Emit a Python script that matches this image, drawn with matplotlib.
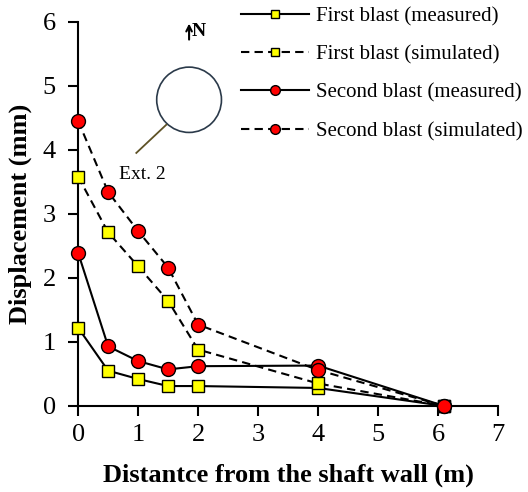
import matplotlib
matplotlib.use("Agg")
import matplotlib.pyplot as plt
from matplotlib.patches import Ellipse

plt.rcParams['font.family'] = ['Liberation Serif', 'DejaVu Serif']

x = [0, 0.5, 1, 1.5, 2, 4, 6.1]
first_measured = [1.22, 0.55, 0.42, 0.31, 0.31, 0.28, 0.0]
first_simulated = [3.58, 2.71, 2.18, 1.64, 0.88, 0.35, 0.0]
second_measured = [2.39, 0.93, 0.70, 0.57, 0.62, 0.63, 0.0]
second_simulated = [4.45, 3.34, 2.73, 2.16, 1.27, 0.56, 0.0]

fig = plt.figure(figsize=(5.28, 4.92), dpi=100)
ax = fig.add_axes([0.148, 0.175, 0.795, 0.781])

sq = dict(marker='s', markersize=9.2, markerfacecolor='#ffff00', markeredgecolor='black', markeredgewidth=1.0, color='black', lw=1.5, clip_on=False)
ci = dict(marker='o', markersize=10, markerfacecolor='#ff0000', markeredgecolor='black', markeredgewidth=1.0, color='black', lw=1.5, clip_on=False)

l1, = ax.plot(x, first_measured, ls='-', label='First blast (measured)', zorder=3, **sq)
l2, = ax.plot(x, first_simulated, ls=(0, (4, 2.5)), label='First blast (simulated)', zorder=3, **sq)
l3, = ax.plot(x, second_measured, ls='-', label='Second blast (measured)', zorder=4, **ci)
l4, = ax.plot(x, second_simulated, ls=(0, (4, 2.5)), label='Second blast (simulated)', zorder=4, **ci)

ax.set_xlim(0, 7)
ax.set_ylim(0, 6)
ax.set_xticks(range(0, 8))
ax.set_yticks(range(0, 7))
for s in ['top', 'right']:
    ax.spines[s].set_visible(False)
for s in ['left', 'bottom']:
    ax.spines[s].set_linewidth(1.5)
ax.tick_params(direction='out', length=7, width=1.5, labelsize=19)
ax.tick_params(axis='y', pad=9)
ax.tick_params(axis='x', pad=6)
ax.set_xlabel('Distantce from the shaft wall (m)', fontsize=19, fontweight='bold', labelpad=13)
ax.set_ylabel('Displacement (mm)', fontsize=19, fontweight='bold', labelpad=8)

# inset sketch
ax.add_patch(Ellipse((1.85, 4.78), 1.08, 1.02, fill=False, edgecolor='#2b3a4a', lw=1.2))
ax.plot([1.47, 0.97], [4.39, 3.95], color='#5e5226', lw=1.3)
ax.text(1.07, 3.62, 'Ext. 2', fontsize=14, ha='center', va='center')
ax.annotate('', xy=(1.85, 5.97), xytext=(1.85, 5.72),
            arrowprops=dict(arrowstyle='->', lw=1.5, color='black', shrinkA=0, shrinkB=0))
ax.text(1.9, 5.84, 'N', fontsize=14, fontweight='bold', ha='left', va='center')

leg = fig.legend(handles=[l1, l2, l3, l4], loc='upper left', bbox_to_anchor=(0.42, 1.025),
                 frameon=False, fontsize=15, handlelength=3.3, handletextpad=0.3,
                 labelspacing=0.9, markerscale=0.7)

fig.savefig('out.png', dpi=100)
